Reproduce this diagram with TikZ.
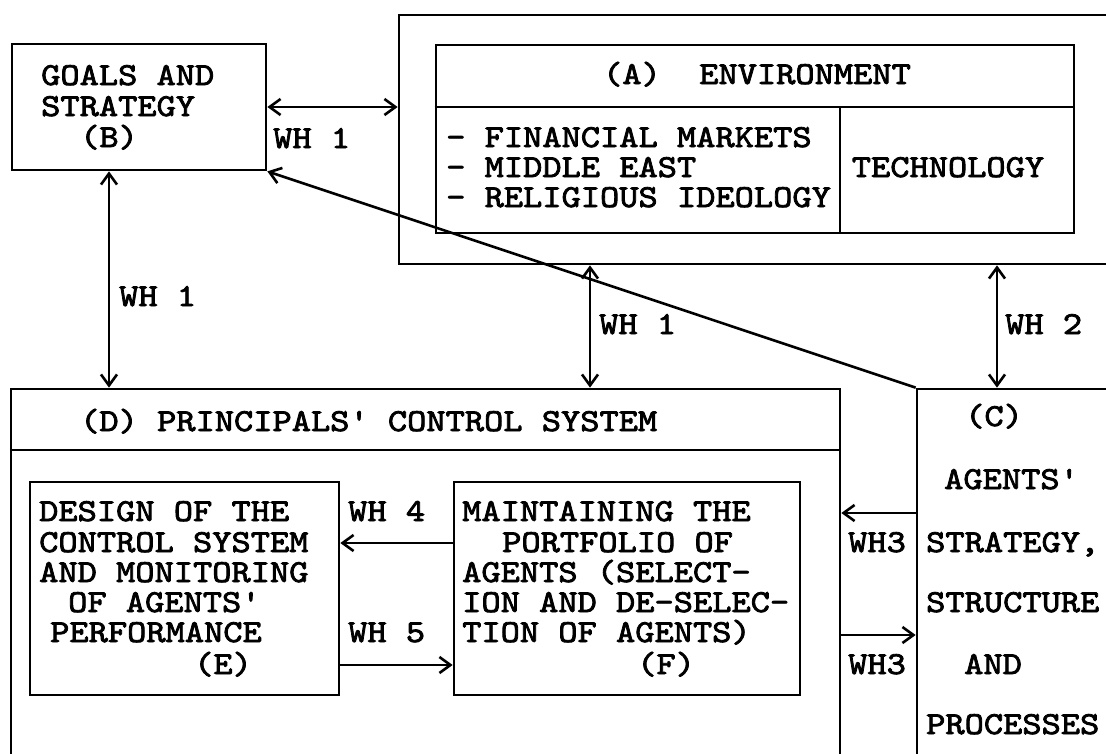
\documentclass[tikz,border=0pt]{standalone}
\usepackage{fontspec}
\usetikzlibrary{arrows.meta}
\newfontfamily\courfont{lmmono10-regular}[Extension=.otf, FakeStretch=1.145, FakeBold=2.5]
\tikzset{
  box/.style={draw, line width=2.7pt, inner sep=0pt},
  lbl/.style={font=\courfont\fontsize{32pt}{30pt}\selectfont, anchor=base west, inner sep=0pt},
  lblc/.style={lbl, anchor=base},
  tip/.tip={Straight Barb[length=11pt,width=16pt]},
  one/.style={line width=2.6pt, -tip},
  two/.style={line width=2.6pt, tip-tip}
}
\begin{document}
\begin{tikzpicture}[x=1pt,y=-1pt]
\useasboundingbox (0,0) rectangle (1106,753);
\clip (0,0) rectangle (1106,753);
% boxes
\node[box, minimum width=254pt, minimum height=126pt] (B) at (139,107) {};
\node[box, minimum width=741pt, minimum height=249pt] (Aout) at (769.5,139.5) {};
\node[box, minimum width=638pt, minimum height=188pt] (Ain) at (755,139) {};
\node[box, minimum width=829pt, minimum height=411pt] (D) at (425.5,594.5) {};
\node[box, minimum width=309pt, minimum height=213pt] (E) at (184.5,588.5) {};
\node[box, minimum width=346pt, minimum height=213pt] (F) at (627,588.5) {};
\node[box, minimum width=223pt, minimum height=411pt] (C) at (1028.5,594.5) {};
\draw[line width=2.7pt] (Ain.west |- 0,107) -- (Ain.east |- 0,107);
\draw[line width=2.7pt] (840,107) -- (Ain.south -| 840,0);
\draw[line width=2.7pt] (D.west |- 0,450) -- (D.east |- 0,450);
% texts B
\node[lbl] (b1) at (41,85) {GOALS AND};
\node[lbl] (b2) at (41,116) {STRATEGY};
\node[lbl] (b3) at (80,147) {(B)};
% texts A
\node[lblc] (a0) at (757,84) {(A)\ \ ENVIRONMENT};
\node[lbl] (a1) at (446,147) {- FINANCIAL MARKETS};
\node[lbl] (a2) at (446,177) {- MIDDLE EAST};
\node[lbl] (a3) at (446,207) {- RELIGIOUS IDEOLOGY};
\node[lblc] (a4) at (948,177) {TECHNOLOGY};
% texts D
\node[lbl] (d0) at (80,431) {(D) PRINCIPALS' CONTROL SYSTEM};
% texts E
\node[lbl] (e1) at (39,521) {DESIGN OF THE};
\node[lbl] (e2) at (39,552) {CONTROL SYSTEM};
\node[lbl] (e3) at (39,582) {AND MONITORING};
\node[lbl] (e4) at (68,612) {OF AGENTS'};
\node[lbl] (e5) at (50,642) {PERFORMANCE};
\node[lbl] (e6) at (194,674) {(E)};
% texts F
\node[lbl] (f1) at (462,521) {MAINTAINING THE};
\node[lbl] (f2) at (502,552) {PORTFOLIO OF};
\node[lbl] (f3) at (462,582) {AGENTS (SELECT-};
\node[lbl] (f4) at (462,612) {ION AND DE-SELEC-};
\node[lbl] (f5) at (462,642) {TION OF AGENTS)};
\node[lbl] (f6) at (637,674) {(F)};
% texts C
\node[lbl] (c1) at (965,426) {(C)};
\node[lbl] (c2) at (944,489) {AGENTS'};
\node[lbl] (c3) at (926,552) {STRATEGY,};
\node[lbl] (c4) at (926,612) {STRUCTURE};
\node[lbl] (c5) at (964,674) {AND};
\node[lbl] (c6) at (926,734) {PROCESSES};
% connector labels
\node[lbl] (w1) at (273,148) {WH 1};
\node[lbl] (w2) at (119,306) {WH 1};
\node[lbl] (w3) at (599,334) {WH 1};
\node[lbl] (w4) at (1005,334) {WH 2};
\node[lbl] (w5) at (348,521) {WH 4};
\node[lbl] (w6) at (348,642) {WH 5};
\node[lbl] (w7) at (848,552) {WH3};
\node[lbl] (w8) at (848,674) {WH3};
% connectors
\coordinate (xbd) at (109,0);
\coordinate (xad) at (590,0);
\coordinate (xac) at (997,0);
\coordinate (y4) at (0,543);
\coordinate (y5) at (0,665);
\coordinate (y3a) at (0,513);
\coordinate (y3b) at (0,635);
\draw[two] (B.east) -- (B.east -| Aout.west);
\draw[one] (C.north west) -- (B.south east);
\draw[two] (xbd |- B.south) -- (xbd |- D.north);
\draw[two] (xad |- Aout.south) -- (xad |- D.north);
\draw[two] (xac |- Aout.south) -- (xac |- C.north);
\draw[one] (y4 -| F.west) -- (y4 -| E.east);
\draw[one] (y5 -| E.east) -- (y5 -| F.west);
\draw[one] (y3a -| C.west) -- (y3a -| D.east);
\draw[one] (y3b -| D.east) -- (y3b -| C.west);
\end{tikzpicture}
\end{document}
